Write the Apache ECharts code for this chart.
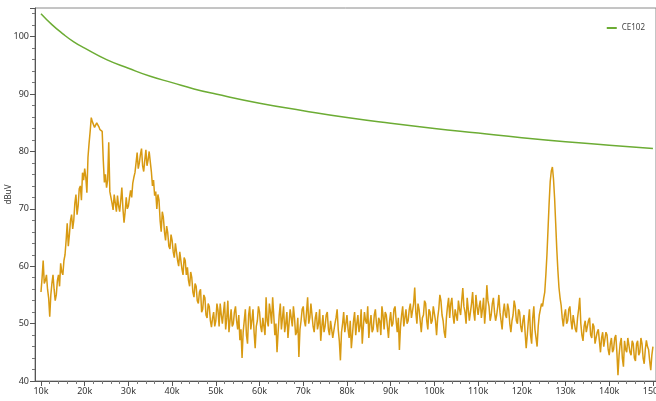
<!DOCTYPE html>
<html>
<head>
<meta charset="utf-8">
<script src="https://cdn.jsdelivr.net/npm/echarts@6/dist/echarts.min.js"></script>
<style>
html,body{margin:0;padding:0;background:#fff;}
#chart{width:656px;height:401px;}
</style>
</head>
<body>
<div id="chart"></div>
<script>
// CE102 limit line (frequency in Hz, level in dBuV)
const limitFreq = [10000, 12500, 15000, 17500, 20000, 25000, 30000, 35000, 40000, 45000, 50000, 60000, 70000, 80000, 90000, 100000, 110000, 120000, 130000, 140000, 150000];
const limitLevel = [104.0, 102.1, 100.5, 99.1, 98.0, 96.0, 94.5, 93.1, 92.0, 90.9, 90.0, 88.4, 87.1, 85.9, 84.9, 84.0, 83.2, 82.4, 81.7, 81.1, 80.5];

// Measured trace: sweep from 10 kHz in 0.25 kHz steps (one row = 5 kHz)
const sweepStartHz = 10000;
const sweepStepHz = 250;
const traceLevel = [
  55.5, 58.0, 61.0, 57.0, 57.5, 58.5, 56.0, 54.5, 51.2, 55.0, 57.0, 58.5, 56.0, 54.0, 55.0, 57.5, 58.5, 56.5, 60.5, 59.0,
  58.5, 61.0, 62.0, 64.5, 67.5, 63.5, 65.5, 68.0, 69.0, 66.5, 68.0, 71.0, 72.5, 69.0, 70.5, 73.5, 74.0, 71.5, 76.3, 75.0,
  77.0, 75.5, 72.8, 79.0, 81.4, 83.5, 85.9, 85.2, 85.0, 84.2, 84.6, 85.0, 84.9, 84.3, 83.8, 84.1, 83.5, 78.5, 74.6, 76.0,
  73.7, 75.0, 81.6, 73.0, 72.0, 71.0, 69.8, 72.5, 71.0, 69.5, 72.3, 70.5, 69.5, 71.5, 73.7, 70.0, 67.6, 69.5, 72.0, 70.0,
  70.5, 72.0, 73.2, 72.0, 74.5, 75.5, 76.3, 78.0, 79.8, 77.0, 78.0, 79.5, 80.5, 77.5, 76.5, 78.5, 80.3, 77.5, 78.5, 80.0,
  80.0, 76.5, 74.0, 75.0, 72.3, 73.0, 70.0, 72.5, 71.5, 68.0, 66.0, 69.5, 68.5, 66.0, 64.5, 67.0, 65.8, 63.5, 63.0, 65.5,
  64.5, 62.5, 61.5, 64.0, 63.8, 61.0, 60.0, 62.5, 62.8, 59.5, 58.5, 61.5, 61.0, 58.5, 59.8, 57.5, 56.5, 59.0, 58.0, 55.5,
  54.6, 57.0, 56.5, 54.0, 53.5, 55.5, 56.0, 52.0, 52.5, 55.0, 54.5, 51.5, 51.0, 53.5, 53.0, 50.5, 49.4, 51.0, 52.0, 49.5,
  50.5, 53.5, 52.3, 49.5, 53.5, 51.5, 50.0, 52.0, 53.8, 49.0, 51.0, 54.0, 48.5, 50.5, 52.5, 49.5, 50.0, 52.0, 53.0, 50.5,
  49.0, 51.5, 47.1, 49.0, 44.0, 48.5, 50.5, 52.5, 48.0, 46.5, 51.5, 53.0, 49.0, 50.5, 52.5, 48.5, 45.7, 49.5, 50.5, 53.0,
  52.0, 49.5, 48.5, 51.0, 51.0, 48.0, 54.6, 50.5, 49.5, 53.5, 52.0, 50.0, 54.6, 51.5, 48.0, 50.0, 45.0, 48.5, 51.5, 53.5,
  49.0, 51.0, 53.0, 48.5, 50.0, 52.0, 47.5, 50.0, 52.5, 51.0, 49.5, 53.0, 51.0, 48.0, 48.5, 51.0, 44.2, 49.0, 50.5, 52.5,
  53.0, 50.5, 49.5, 52.0, 54.6, 50.0, 51.0, 53.5, 53.5, 49.5, 48.5, 51.0, 52.0, 49.0, 50.0, 52.5, 47.0, 49.5, 51.5, 48.5,
  49.5, 51.5, 52.0, 49.0, 48.0, 50.5, 50.5, 47.5, 47.5, 50.0, 51.0, 52.5, 49.0, 47.0, 43.6, 48.5, 50.0, 52.0, 48.5, 50.0,
  51.5, 49.0, 47.5, 50.5, 45.7, 48.0, 50.5, 52.0, 48.0, 50.0, 51.5, 48.5, 49.5, 52.5, 46.5, 49.5, 52.0, 50.5, 50.0, 53.0,
  47.5, 50.0, 51.5, 48.5, 49.0, 51.5, 52.5, 50.0, 48.5, 51.0, 50.5, 48.0, 53.0, 51.5, 49.0, 52.0, 51.5, 49.5, 47.5, 50.5,
  52.0, 49.5, 50.0, 52.5, 53.0, 50.5, 48.5, 51.0, 45.4, 49.5, 51.5, 53.0, 49.5, 51.0, 52.5, 50.0, 50.5, 52.5, 53.5, 51.0,
  51.0, 53.5, 56.3, 52.0, 50.0, 53.5, 52.5, 50.5, 48.5, 51.0, 51.5, 54.0, 53.5, 50.5, 49.0, 52.5, 52.0, 50.0, 50.5, 53.0,
  53.0, 50.5, 48.0, 51.0, 52.5, 55.0, 54.0, 51.5, 50.5, 48.5, 47.5, 51.0, 53.0, 54.5, 51.0, 53.5, 54.5, 51.5, 50.0, 52.5,
  52.5, 50.5, 54.0, 52.5, 51.5, 54.0, 56.2, 53.0, 52.0, 50.0, 54.5, 52.5, 50.5, 52.0, 53.5, 55.5, 52.0, 50.5, 55.0, 53.0,
  51.5, 53.0, 54.0, 51.0, 52.5, 54.5, 50.0, 52.5, 56.7, 54.0, 53.0, 50.5, 51.5, 53.5, 54.5, 52.0, 50.5, 51.5, 53.0, 55.0,
  52.0, 50.5, 49.0, 52.0, 53.5, 51.5, 51.0, 53.5, 52.5, 50.0, 48.5, 50.5, 51.5, 54.0, 53.0, 50.5, 50.0, 52.5, 52.0, 49.5,
  48.5, 50.5, 51.5, 48.5, 45.7, 48.0, 50.5, 52.5, 48.0, 46.5, 51.0, 53.0, 49.0, 47.5, 46.0, 49.5, 51.5, 52.5, 53.5, 53.0,
  54.4, 55.5, 58.5, 62.0, 66.5, 71.0, 74.8, 76.6, 77.3, 75.2, 71.9, 67.5, 63.0, 59.3, 56.3, 54.5, 53.2, 51.0, 49.5, 51.5,
  52.5, 50.0, 50.5, 52.5, 53.0, 50.5, 49.0, 51.5, 51.5, 49.0, 48.5, 51.0, 52.5, 54.5, 50.0, 48.0, 47.0, 49.5, 50.5, 48.5,
  48.5, 50.5, 51.0, 48.0, 47.5, 50.0, 49.5, 46.5, 46.5, 48.5, 49.0, 47.0, 45.0, 47.5, 48.5, 46.0, 46.0, 48.5, 48.0, 45.5,
  44.5, 46.5, 47.5, 45.0, 45.5, 47.5, 48.0, 45.0, 41.0, 44.5, 46.5, 47.5, 44.0, 42.5, 47.0, 45.5, 45.0, 47.5, 47.5, 45.0,
  44.5, 47.0, 46.5, 44.0, 43.5, 46.5, 47.0, 44.5, 45.0, 47.5, 46.5, 44.0, 43.0, 45.5, 47.1, 46.0, 45.5, 43.5, 41.9, 44.5,
  46.0
];

// Axis ticks / labels
const xMajorTicks = [10000, 20000, 30000, 40000, 50000, 60000, 70000, 80000, 90000, 100000, 110000, 120000, 130000, 140000, 150000];
const xMinorTicks = [];
for (let i = 0; i < xMajorTicks.length - 1; i++) {
  for (let k = 1; k < 5; k++) xMinorTicks.push(xMajorTicks[i] + k * 2000);
}
const yAxisName = 'dBuV';
const legendName = 'CE102';

const traceData = traceLevel.map((v, i) => [sweepStartHz + i * sweepStepHz, v]);
const limitData = limitFreq.map((f, i) => [f, limitLevel[i]]);

const FONT = 'Noto Sans';
const xMin = 8630, xMax = 150700;

const chart = echarts.init(document.getElementById('chart'), null, {renderer: 'canvas'});
chart.setOption({
  animation: false,
  backgroundColor: '#ffffff',
  textStyle: {fontFamily: FONT},
  grid: {left: 35, top: 8, right: 0, bottom: 20, containLabel: false, outerBoundsMode: 'none',
    show: true, borderColor: '#8a8a8a', borderWidth: 1, backgroundColor: 'transparent'},
  legend: {
    data: [legendName], right: 6, top: 19, itemWidth: 10, itemHeight: 2, itemGap: 4,
    icon: 'rect',
    textStyle: {fontSize: 8, color: '#444', fontFamily: FONT}
  },
  xAxis: [{
    type: 'value', min: xMin, max: xMax,
    axisLine: {show: true, lineStyle: {color: '#555', width: 1}},
    axisTick: {show: true, customValues: xMajorTicks, length: 5, lineStyle: {color: '#555'}},
    axisLabel: {show: true, customValues: xMajorTicks, fontSize: 9, color: '#333', margin: 6,
      formatter: v => (v / 1000) + 'k'},
    splitLine: {show: false}
  }, {
    type: 'value', min: xMin, max: xMax, position: 'bottom',
    axisLine: {show: false},
    axisTick: {show: true, customValues: xMinorTicks, length: 3, lineStyle: {color: '#777'}},
    axisLabel: {show: false},
    splitLine: {show: false}
  }],
  yAxis: {
    type: 'value', min: 40, max: 105, interval: 10,
    name: yAxisName, nameLocation: 'middle', nameRotate: 90, nameGap: 22, nameMoveOverlap: false,
    nameTextStyle: {fontSize: 8, color: '#333'},
    axisLine: {show: true, lineStyle: {color: '#555', width: 1}},
    axisTick: {show: true, length: 5, lineStyle: {color: '#555'}},
    minorTick: {show: true, splitNumber: 5, length: 3, lineStyle: {color: '#777'}},
    axisLabel: {fontSize: 9, color: '#333', margin: 6, showMaxLabel: false},
    splitLine: {show: false}
  },
  series: [{
    name: 'Trace', type: 'line', data: traceData, showSymbol: false,
    lineStyle: {color: '#d89a12', width: 1.5}, itemStyle: {color: '#d89a12'}, z: 2
  }, {
    name: legendName, type: 'line', data: limitData, showSymbol: false, smooth: true,
    lineStyle: {color: '#6cac34', width: 1.5}, itemStyle: {color: '#6cac34'}, z: 3
  }]
});
</script>
</body>
</html>
